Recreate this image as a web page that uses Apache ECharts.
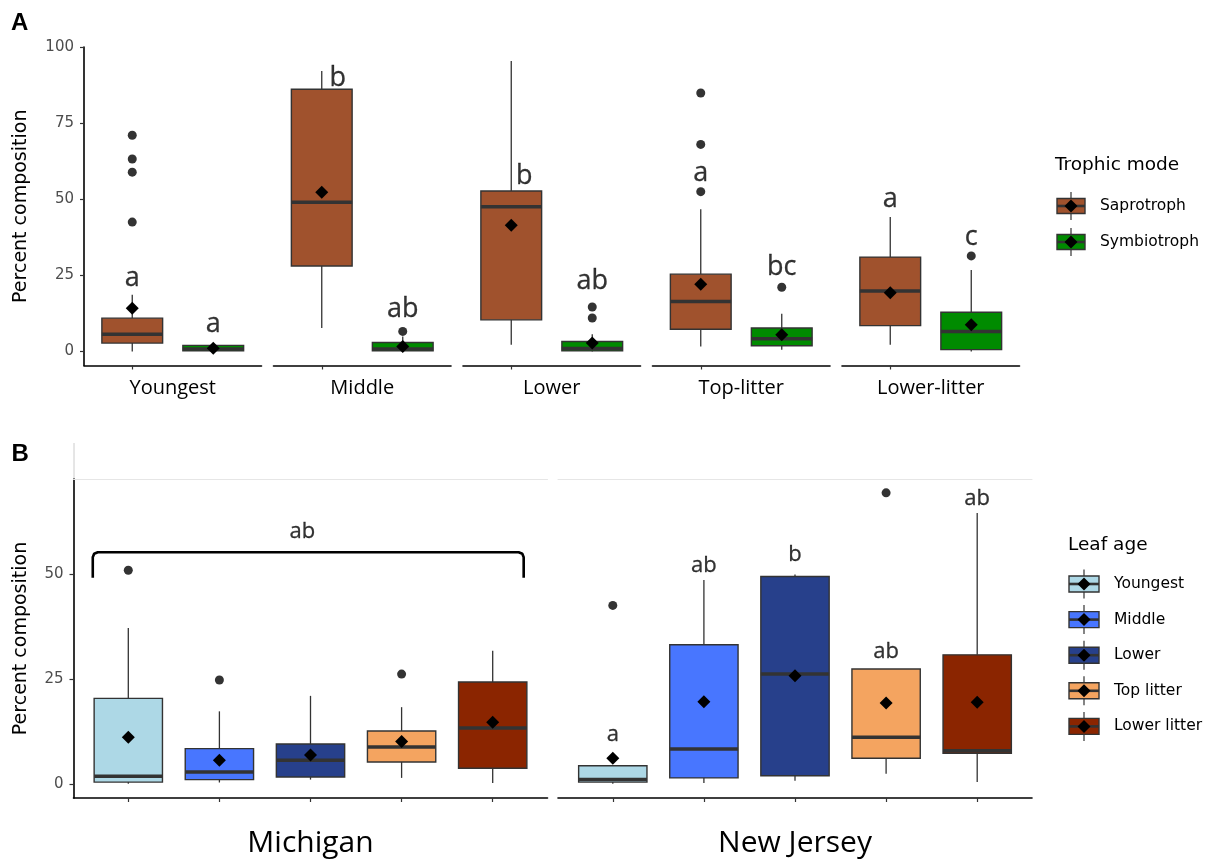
<!DOCTYPE html>
<html><head><meta charset="utf-8">
<script src="https://cdn.jsdelivr.net/npm/echarts@6/dist/echarts.min.js"></script>
<style>html,body{margin:0;padding:0;background:#fff}#main{width:1215px;height:859px}</style>
</head><body><div id="main"></div>
<script>
// ---------------- Panel A data ----------------
const facetsA = ['Youngest', 'Middle', 'Lower', 'Top-litter', 'Lower-litter'];
const trophicModes = ['Saprotroph', 'Symbiotroph'];
// [lower whisker, Q1, median, Q3, upper whisker]
const saproBox = [[0, 2.75, 5.7, 10.95, 18.6], [7.7, 28.1, 49.0, 86.1, 92.1], [2.2, 10.4, 47.5, 52.7, 95.4], [1.6, 7.3, 16.4, 25.4, 46.7], [2.2, 8.5, 19.9, 31.0, 44.2]];
const symbioBox = [[0, 0.2, 0.8, 2.0, 2.0], [0, 0.2, 0.8, 2.95, 4.9], [0, 0.2, 1.0, 3.3, 5.7], [0.6, 1.9, 4.2, 7.7, 12.4], [0, 0.6, 6.6, 12.9, 26.8]];
const saproMean = [14.2, 52.3, 41.5, 22.1, 19.3];
const symbioMean = [1.1, 1.6, 2.75, 5.5, 8.8];
const saproOutliers = [[71.0, 63.2, 58.9, 42.5], [], [], [84.9, 68.0, 52.5], []];
const symbioOutliers = [[], [6.6], [14.6, 11.0], [21.1], [31.4]];
const saproLetters = ['a', 'b', 'b', 'a', 'a'];
const symbioLetters = ['a', 'ab', 'ab', 'bc', 'c'];
const saproLetterY = [24.1, 89.6, 57.6, 58.4, 50.0];
const symbioLetterY = [9.0, 13.9, 23.2, 27.8, 37.4];
const yTicksA = [0, 25, 50, 75, 100];

// ---------------- Panel B data ----------------
const sites = ['Michigan', 'New Jersey'];
const leafAges = ['Youngest', 'Middle', 'Lower', 'Top litter', 'Lower litter'];
const miBox = [[0, 0.4, 1.8, 20.4, 37.2], [0.3, 1.0, 2.8, 8.4, 17.3], [1.0, 1.6, 5.6, 9.5, 21.0], [1.4, 5.2, 8.8, 12.6, 18.3], [0.2, 3.7, 13.3, 24.3, 31.8]];
const miMean = [11.1, 5.6, 6.9, 10.1, 14.7];
const miOutliers = [[51.0], [24.8], [], [26.2], []];
const njBox = [[0, 0.4, 1.0, 4.3, 4.3], [0.2, 1.4, 8.3, 33.2, 48.7], [0.7, 1.9, 26.2, 49.5, 50.0], [2.4, 6.1, 11.1, 27.4, 27.4], [0.4, 7.3, 7.9, 30.8, 64.7]];
const njMean = [6.1, 19.6, 25.8, 19.3, 19.5];
const njOutliers = [[42.6], [], [], [69.5], []];
const njLetters = ['a', 'ab', 'b', 'ab', 'ab'];
const njLetterY = [11.8, 52.0, 54.6, 31.5, 68.0];
const miGroupLetter = 'ab';
const miGroupLetterPos = [2.91, 60.3];
// bracket over all Michigan boxes (x in category units 1..5, y in %)
const miBracketX = [0.61, 0.61, 0.625, 0.665, 5.285, 5.325, 5.34, 5.34];
const miBracketY = [49.2, 54.1, 54.95, 55.3, 55.3, 54.95, 54.1, 49.2];
const yTicksB = [0, 25, 50];

// ---------------- styles ----------------
const DARK = '#333333';
const CAL = '"Open Sans", sans-serif';
const HEL = '"DejaVu Sans", sans-serif';
const trophicColors = ['#A0522D', '#008B00'];
const leafColors = ['#ADD8E6', '#4876FF', '#27408B', '#F4A460', '#8B2500'];

const grids = [], xAxes = [], yAxes = [], series = [];

function boxRenderer(colors) {
  return function (params, api) {
    const c = api.value(0);
    const p = [1, 2, 3, 4, 5].map(k => api.coord([c, api.value(k)]));
    const bw = api.size([1, 0])[0] * 0.75;
    const x = p[0][0];
    const st = { stroke: DARK, lineWidth: 1.3 };
    return {
      type: 'group', children: [
        { type: 'line', shape: { x1: x, y1: p[0][1], x2: x, y2: p[1][1] }, style: st },
        { type: 'line', shape: { x1: x, y1: p[3][1], x2: x, y2: p[4][1] }, style: st },
        { type: 'rect', shape: { x: x - bw / 2, y: p[3][1], width: bw, height: p[1][1] - p[3][1] }, style: { fill: colors[c], stroke: DARK, lineWidth: 1.4 } },
        { type: 'line', shape: { x1: x - bw / 2, y1: p[2][1], x2: x + bw / 2, y2: p[2][1] }, style: { stroke: DARK, lineWidth: 3.5 } }
      ]
    };
  };
}

function addFacet(cfg) {
  const go = grids.length;
  grids.push({ left: cfg.left, top: cfg.top, width: cfg.width, height: cfg.height });
  const gi = grids.length;
  grids.push({ left: cfg.left + (cfg.width - cfg.innerWidth) / 2, top: cfg.top, width: cfg.innerWidth, height: cfg.height });

  xAxes.push({
    gridIndex: go, type: 'value', min: 0, max: 1,
    axisLine: { show: true, onZero: false, lineStyle: { color: '#000', width: 1.6 } },
    axisTick: { show: false }, axisLabel: { show: false }, splitLine: { show: false },
    name: cfg.label, nameLocation: 'middle', nameGap: cfg.nameGap,
    nameTextStyle: { fontFamily: CAL, fontSize: cfg.nameSize, color: '#000' }
  });
  if (cfg.topLine) {
    xAxes.push({
      gridIndex: go, type: 'value', min: 0, max: 1, position: 'top',
      axisLine: { show: true, onZero: false, lineStyle: { color: '#e6e6e6', width: 1 } },
      axisTick: { show: false }, axisLabel: { show: false }, splitLine: { show: false }
    });
  }
  yAxes.push({
    gridIndex: go, type: 'value', min: cfg.ymin, max: cfg.ymax, show: cfg.showY,
    axisLine: { show: true, onZero: false, lineStyle: { color: '#000', width: 1.6 } },
    axisTick: { show: true, length: 4, lineStyle: { color: DARK, width: 1.2 }, customValues: cfg.yTicks },
    axisLabel: { color: '#4d4d4d', fontFamily: HEL, fontSize: 15, margin: 10, customValues: cfg.yTicks },
    splitLine: { show: false },
    name: 'Percent composition', nameLocation: 'middle', nameGap: cfg.yNameGap, nameRotate: 90,
    nameTextStyle: { fontFamily: HEL, fontSize: 19, color: '#000' }
  });
  const xi = xAxes.length;
  xAxes.push({
    gridIndex: gi, type: 'category', data: cfg.cats, boundaryGap: true,
    axisLine: { show: false, onZero: false },
    axisTick: { show: true, alignWithLabel: true, length: 4, lineStyle: { color: DARK, width: 1.2 } },
    axisLabel: { show: false }, splitLine: { show: false }
  });
  const yi = yAxes.length;
  yAxes.push({ gridIndex: gi, type: 'value', min: cfg.ymin, max: cfg.ymax, show: false });

  series.push({
    type: 'custom', xAxisIndex: xi, yAxisIndex: yi, silent: true, z: 2,
    renderItem: boxRenderer(cfg.colors),
    encode: { x: 0, y: [1, 2, 3, 4, 5] },
    data: cfg.boxes.map((b, c) => [c].concat(b))
  });
  const outl = [];
  cfg.outliers.forEach((arr, c) => arr.forEach(v => outl.push([c, v])));
  series.push({
    type: 'scatter', xAxisIndex: xi, yAxisIndex: yi, silent: true, z: 3,
    symbol: 'circle', symbolSize: 9, itemStyle: { color: DARK, opacity: 1 }, data: outl
  });
  series.push({
    type: 'scatter', xAxisIndex: xi, yAxisIndex: yi, silent: true, z: 4,
    symbol: 'diamond', symbolSize: 13, itemStyle: { color: '#000', opacity: 1 },
    data: cfg.means.map((m, c) => [c, m])
  });
  const letters = [];
  cfg.letters.forEach((l, c) => {
    if (!l) return;
    const item = { name: l, value: [c, cfg.letterY[c]] };
    const dx = cfg.letterDx ? cfg.letterDx[c] : 0;
    if (dx) item.label = { offset: [dx, 0] };
    letters.push(item);
  });
  series.push({
    type: 'scatter', xAxisIndex: xi, yAxisIndex: yi, silent: true, z: 5,
    symbolSize: 1, itemStyle: { color: 'rgba(0,0,0,0)' },
    label: { show: true, position: 'inside', formatter: '{b}', fontFamily: CAL, fontSize: cfg.letterSize, color: '#000', textBorderColor: '#000', textBorderWidth: 0.3 },
    data: letters
  });
  return { gi, yi };
}

// ---------------- Panel A facets ----------------
facetsA.forEach((f, i) => {
  addFacet({
    left: 84 + i * 189.5, width: 177.5, innerWidth: 162, top: 47, height: 318.5,
    label: f, nameGap: 13, nameSize: 20,
    ymin: -4.6, ymax: 100, yTicks: yTicksA, showY: i === 0, yNameGap: 53,
    cats: trophicModes, colors: trophicColors,
    boxes: [saproBox[i], symbioBox[i]],
    means: [saproMean[i], symbioMean[i]],
    outliers: [saproOutliers[i], symbioOutliers[i]],
    letters: [saproLetters[i], symbioLetters[i]],
    letterY: [saproLetterY[i], symbioLetterY[i]],
    letterDx: [(i === 1 ? 16 : (i === 2 ? 13 : 0)), 0],
    letterSize: 27
  });
});

// ---------------- Panel B facets ----------------
const mi = addFacet({
  left: 73.5, width: 474, innerWidth: 455.5, top: 479, height: 319,
  label: sites[0], nameGap: 30, nameSize: 30, topLine: true,
  ymin: -3.4, ymax: 72.8, yTicks: yTicksB, showY: true, yNameGap: 43,
  cats: leafAges, colors: leafColors,
  boxes: miBox, means: miMean, outliers: miOutliers,
  letters: ['', '', '', '', ''], letterY: [0, 0, 0, 0, 0], letterSize: 22
});
addFacet({
  left: 558, width: 474, innerWidth: 455.5, top: 479, height: 319,
  label: sites[1], nameGap: 30, nameSize: 30, topLine: true,
  ymin: -3.4, ymax: 72.8, yTicks: yTicksB, showY: false, yNameGap: 43,
  cats: leafAges, colors: leafColors,
  boxes: njBox, means: njMean, outliers: njOutliers,
  letters: njLetters, letterY: njLetterY, letterSize: 22
});
// overlay value axis on Michigan inner grid for bracket annotation
const ovx = xAxes.length;
xAxes.push({ gridIndex: mi.gi, type: 'value', min: 0.5, max: 5.5, show: false });
series.push({
  type: 'line', xAxisIndex: ovx, yAxisIndex: mi.yi, silent: true, z: 5,
  symbol: 'none', lineStyle: { color: '#000', width: 2.6 },
  data: miBracketX.map((x, k) => [x, miBracketY[k]])
});
series.push({
  type: 'scatter', xAxisIndex: ovx, yAxisIndex: mi.yi, silent: true, z: 5,
  symbolSize: 1, itemStyle: { color: 'rgba(0,0,0,0)' },
  label: { show: true, position: 'inside', formatter: '{b}', fontFamily: CAL, fontSize: 22, color: '#000', textBorderColor: '#000', textBorderWidth: 0.3 },
  data: [{ name: miGroupLetter, value: miGroupLetterPos }]
});

// ---------------- legends (graphic) ----------------
function legendKey(cx, cy, w, h, color) {
  return [
    { type: 'line', shape: { x1: cx, y1: cy - h / 2 - 6.5, x2: cx, y2: cy + h / 2 + 6.5 }, style: { stroke: DARK, lineWidth: 1.2 } },
    { type: 'rect', shape: { x: cx - w / 2, y: cy - h / 2, width: w, height: h }, style: { fill: color, stroke: DARK, lineWidth: 1.4 } },
    { type: 'line', shape: { x1: cx - w / 2, y1: cy, x2: cx + w / 2, y2: cy }, style: { stroke: DARK, lineWidth: 2.6 } },
    { type: 'polygon', shape: { points: [[cx, cy - 6.5], [cx + 6.5, cy], [cx, cy + 6.5], [cx - 6.5, cy]] }, style: { fill: '#000' } }
  ];
}
const gfx = [];
gfx.push({ type: 'text', style: { text: 'A', x: 11, y: 23.5, font: 'bold 24px "Liberation Sans", Arial, sans-serif', fill: '#000', verticalAlign: 'middle' } });
gfx.push({ type: 'text', style: { text: 'B', x: 11.5, y: 454, font: 'bold 24px "Liberation Sans", Arial, sans-serif', fill: '#000', verticalAlign: 'middle' } });
gfx.push({ type: 'line', shape: { x1: 74, y1: 443, x2: 74, y2: 479 }, style: { stroke: '#cccccc', lineWidth: 1 } });
gfx.push({ type: 'text', style: { text: 'Trophic mode', x: 1055, y: 165, font: '18.5px "DejaVu Sans"', fill: '#000', verticalAlign: 'middle' } });
trophicModes.forEach((t, k) => {
  const cy = 206 + k * 36;
  legendKey(1071, cy, 28, 15, trophicColors[k]).forEach(e => gfx.push(e));
  gfx.push({ type: 'text', style: { text: t, x: 1100, y: cy, font: '15.5px "DejaVu Sans"', fill: '#000', verticalAlign: 'middle' } });
});
gfx.push({ type: 'text', style: { text: 'Leaf age', x: 1068, y: 545.5, font: '18.5px "DejaVu Sans"', fill: '#000', verticalAlign: 'middle' } });
leafAges.forEach((t, k) => {
  const cy = 584 + k * 35.6;
  legendKey(1084, cy, 30, 16, leafColors[k]).forEach(e => gfx.push(e));
  gfx.push({ type: 'text', style: { text: t, x: 1114, y: cy, font: '15.5px "DejaVu Sans"', fill: '#000', verticalAlign: 'middle' } });
});

const chart = echarts.init(document.getElementById('main'), null, { renderer: 'canvas' });
chart.setOption({
  animation: false,
  backgroundColor: '#ffffff',
  grid: grids, xAxis: xAxes, yAxis: yAxes, series: series,
  graphic: gfx
});
</script></body></html>
